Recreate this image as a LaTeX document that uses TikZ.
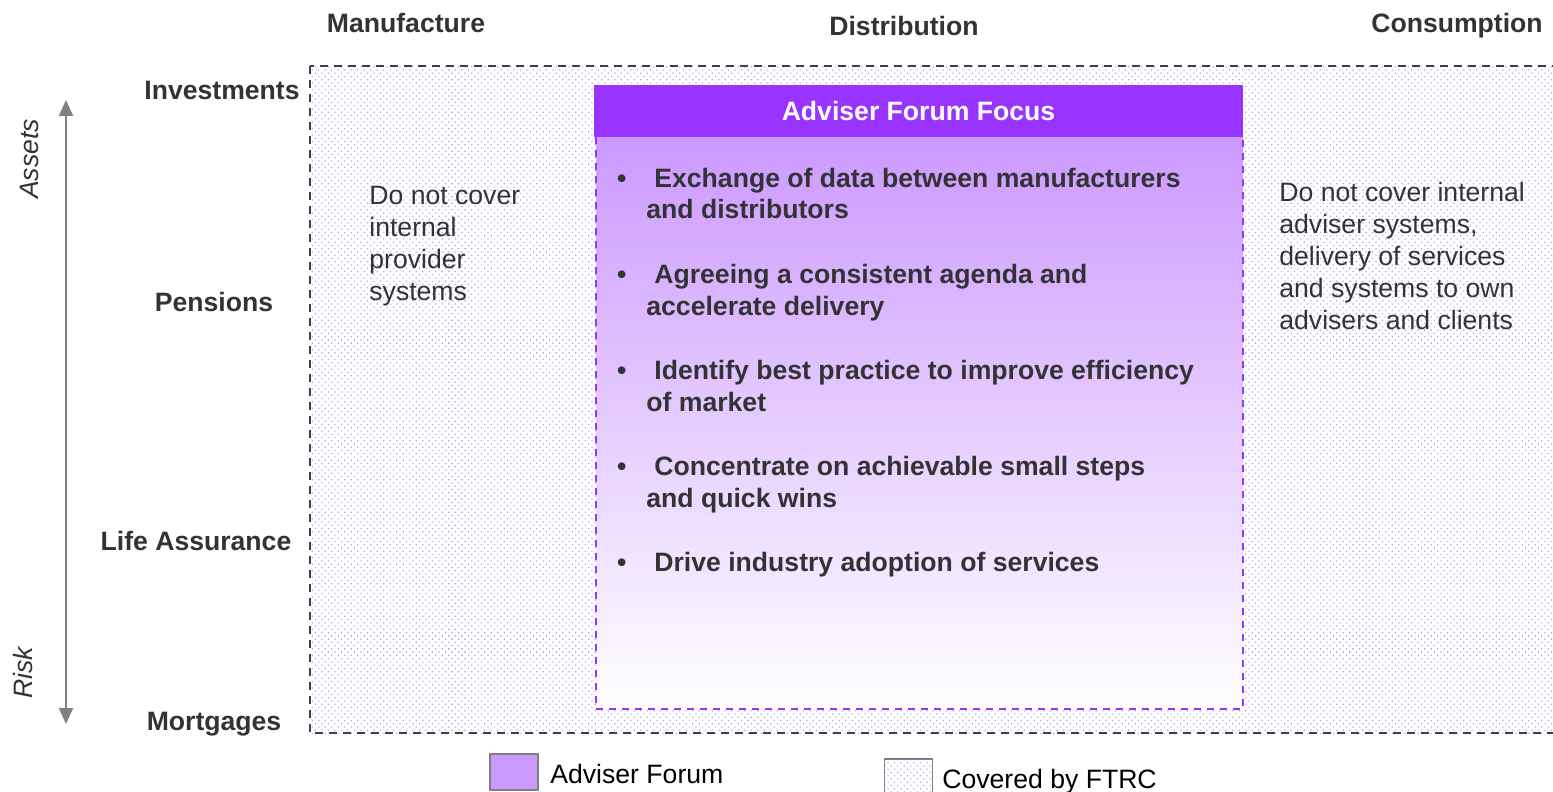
\documentclass[tikz,border=0pt]{standalone}
\usepackage{fontspec}
\setmainfont{Liberation Sans}
\usetikzlibrary{arrows.meta,patterns.meta}
\definecolor{forumpurple}{RGB}{153,51,255}
\definecolor{forumlilac}{RGB}{204,153,255}
\definecolor{textgrey}{RGB}{51,51,51}
\definecolor{dotblue}{RGB}{170,170,248}
\definecolor{edgegrey}{RGB}{64,64,64}

\begin{document}
\begin{tikzpicture}[x=0.5pt,y=-0.5pt,
  font=\fontsize{13.3}{16}\selectfont,
  every node/.style={text=textgrey,inner sep=0pt},
  hdr/.style={font=\fontsize{13.3}{16}\selectfont\bfseries,anchor=base},
  blurb/.style={align=left,anchor=base west},
  bul/.style={font=\fontsize{13.3}{16}\selectfont\bfseries,align=left,anchor=base west},
  ftrc/.style={pattern={Dots[distance=2.3pt,radius=0.45pt,angle=45]},pattern color=dotblue},
  outerline/.style={draw=edgegrey,line width=0.75pt,dash pattern=on 4pt off 3pt},
  focusline/.style={draw=forumpurple,line width=0.75pt,dash pattern=on 3.5pt off 3pt},
  axis/.style={draw=gray,line width=1pt,{Triangle[width=7pt,length=8pt]}-{Triangle[width=7pt,length=8pt]}},
  swatch/.style={draw=gray,line width=0.75pt,minimum width=24pt,minimum height=18pt}]
\useasboundingbox (0,0) rectangle (1553,792);
\clip (0,0) rectangle (1553,792);
	\path[ftrc] (310,66) rectangle (1570,733);
	\draw[outerline] (310,66) rectangle (1570,733);
	\node[hdr] (manufacture) at (406,33) {Manufacture};
	\node[hdr] (distribution) at (904,36) {Distribution};
	\node[hdr] (consumption) at (1457,33) {Consumption};
	\node[hdr,anchor=base east] (investments) at (300,100) {Investments};
	\node[hdr] (pensions) at (214,311) {Pensions};
	\node[hdr] (lifeassurance) at (196,550) {Life Assurance};
	\node[hdr] (mortgages) at (214,730) {Mortgages};
	\coordinate (assetsend) at (66,100);
	\coordinate (riskend) at (66,724);
	\draw[axis] (assetsend) -- (riskend);
	\node[rotate=90,font=\fontsize{13.3}{16}\selectfont\itshape] (assets) at (29,159) {Assets};
	\node[rotate=90,font=\fontsize{13.3}{16}\selectfont\itshape] (risk) at (23,673) {Risk};
	\path[top color=forumlilac,bottom color=white] (596,137) rectangle (1243,709);
	\draw[focusline] (596,137) -- (596,709) -- (1243,709) -- (1243,137);
	\node[fill=forumpurple,minimum width=324.5pt,minimum height=26pt,text=white,font=\fontsize{13.3}{16}\selectfont\bfseries] (focus) at (918.5,111) {Adviser Forum Focus};
	\node[bul] (exchange) at (646,219) {\llap{\textbullet\hspace{10pt}}\hspace{4pt}Exchange of data between manufacturers\\and distributors};
	\node[bul] (agenda) at (646,315) {\llap{\textbullet\hspace{10pt}}\hspace{4pt}Agreeing a consistent agenda and\\accelerate delivery};
	\node[bul] (practice) at (646,411) {\llap{\textbullet\hspace{10pt}}\hspace{4pt}Identify best practice to improve efficiency\\of market};
	\node[bul] (steps) at (646,507) {\llap{\textbullet\hspace{10pt}}\hspace{4pt}Concentrate on achievable small steps\\and quick wins};
	\node[bul] (adoption) at (646,571) {\llap{\textbullet\hspace{10pt}}\hspace{4pt}Drive industry adoption of services};
	\node[blurb] (providers) at (369,300.5) {Do not cover\\internal\\provider\\systems};
	\node[blurb] (advisers) at (1279,329) {Do not cover internal\\adviser systems,\\delivery of services\\and systems to own\\advisers and clients};
	\node[swatch,fill=forumlilac] (keyforum) at (514,772) {};
	\node[anchor=base west,text=black] (keyforumtext) at (550,783) {Adviser Forum};
	\node[swatch,ftrc] (keyftrc) at (908.5,777) {};
	\node[anchor=base west,text=black] (keyftrctext) at (942,788) {Covered by FTRC};
\end{tikzpicture}
\end{document}
